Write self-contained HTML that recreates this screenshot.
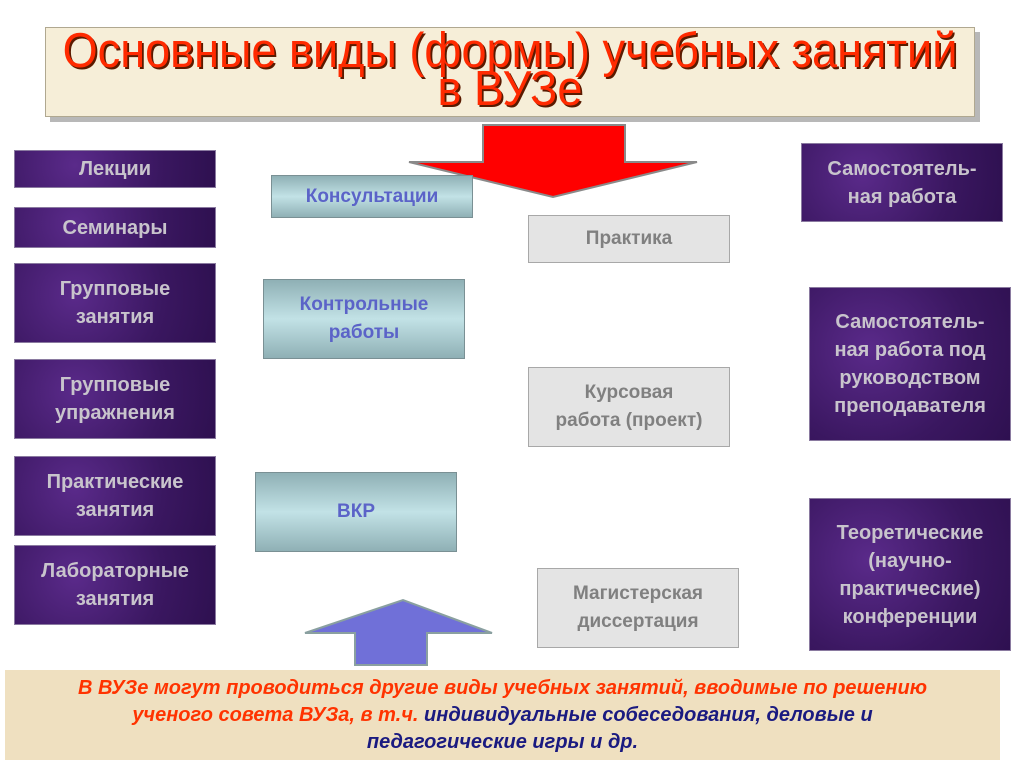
<!DOCTYPE html>
<html><head><meta charset="utf-8"><style>
body{margin:0;width:1024px;height:767px;background:#fff;position:relative;overflow:hidden;font-family:"Liberation Sans",sans-serif}
.a{position:absolute;box-sizing:border-box;display:flex;align-items:center;justify-content:center;text-align:center;font-weight:bold}
.p{background:radial-gradient(circle at 30% 40%,#5a2a8a,#3a1760 60%,#2e1050);border:1px solid #8a7aa0;color:#c8c4cc;font-size:20px;line-height:28px}
.t{background:linear-gradient(#8fb0b5,#c2e2e6 50%,#8fb0b5);border:1px solid #7a9094;color:#5b63c8;font-size:19px;line-height:28px}
.g{background:#e4e4e4;border:1px solid #a8a8a8;color:#808080;font-size:19px;line-height:28px}
</style></head><body>
<div class="a" style="left:50px;top:32px;width:930px;height:90px;background:#b8b8b8"></div>
<div class="a" style="left:45px;top:27px;width:930px;height:90px;background:#f6eed8;border:1px solid #b0a890"></div>
<div style="position:absolute;left:0px;top:32px;width:1020px;text-align:center;white-space:nowrap;color:#ff2a00;font-size:49px;line-height:38px;text-shadow:2px 2px 0 #5a1a00;transform:scaleX(0.92);transform-origin:center">Основные виды (формы) учебных занятий<br>в ВУЗе</div>
<svg style="position:absolute;left:0;top:0" width="1024" height="767">
<polygon points="483,125 625,125 625,162 697,162 553,197 409,162 483,162" fill="#ff0000" stroke="#8a8a8a" stroke-width="2"/>
<polygon points="355,665 355,633 305,633 403,600 492,633 427,633 427,665" fill="#7070d8" stroke="#8aa0a0" stroke-width="2"/>
</svg>
<div class="a t" style="left:271px;top:175px;width:202px;height:43px">Консультации</div>
<div class="a t" style="left:263px;top:279px;width:202px;height:80px">Контрольные<br>работы</div>
<div class="a t" style="left:255px;top:472px;width:202px;height:80px">ВКР</div>
<div class="a g" style="left:528px;top:215px;width:202px;height:48px">Практика</div>
<div class="a g" style="left:528px;top:367px;width:202px;height:80px">Курсовая<br>работа (проект)</div>
<div class="a g" style="left:537px;top:568px;width:202px;height:80px">Магистерская<br>диссертация</div>
<div class="a p" style="left:14px;top:150px;width:202px;height:38px">Лекции</div>
<div class="a p" style="left:14px;top:207px;width:202px;height:41px">Семинары</div>
<div class="a p" style="left:14px;top:263px;width:202px;height:80px">Групповые<br>занятия</div>
<div class="a p" style="left:14px;top:359px;width:202px;height:80px">Групповые<br>упражнения</div>
<div class="a p" style="left:14px;top:456px;width:202px;height:80px">Практические<br>занятия</div>
<div class="a p" style="left:14px;top:545px;width:202px;height:80px">Лабораторные<br>занятия</div>
<div class="a p" style="left:801px;top:143px;width:202px;height:79px">Самостоятель-<br>ная работа</div>
<div class="a p" style="left:809px;top:287px;width:202px;height:154px">Самостоятель-<br>ная работа под<br>руководством<br>преподавателя</div>
<div class="a p" style="left:809px;top:498px;width:202px;height:153px">Теоретические<br>(научно-<br>практические)<br>конференции</div>
<div class="a" style="left:5px;top:670px;width:995px;height:90px;background:#efe0c0;color:#ff3300;font-style:italic;font-size:20px;line-height:27px;display:block;padding-top:5px">В ВУЗе могут проводиться другие виды учебных занятий, вводимые по решению<br>ученого совета ВУЗа, в т.ч. <span style="color:#1a1a80">индивидуальные собеседования, деловые и<br>педагогические игры и др.</span></div>
</body></html>
